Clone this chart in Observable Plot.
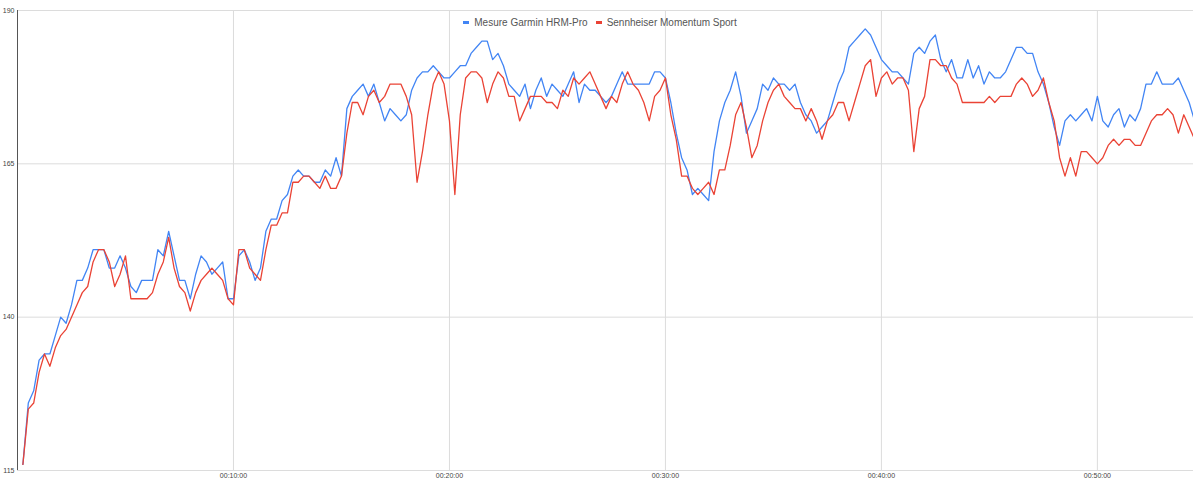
<!DOCTYPE html>
<html>
<head>
<meta charset="utf-8">
<script src="https://cdn.jsdelivr.net/npm/d3@7"></script>
<script src="https://cdn.jsdelivr.net/npm/@observablehq/plot@0.6"></script>
<style>
  html, body { margin: 0; padding: 0; background: #fff; }
  #wrap { position: relative; width: 1200px; height: 484px; }
  #legend { position: absolute; top: 15px; left: 0; width: 1200px; text-align: center;
            font-family: Arial, "Liberation Sans", sans-serif; font-size: 10px; color: #555; pointer-events: none; }
  #legend span.item { display: inline-flex; align-items: center; margin: 0 4px; }
  #legend span.sw { display: inline-block; width: 6px; height: 3px; margin-right: 5px; }
</style>
</head>
<body>
<div id="wrap"><div id="legend"></div></div>
<script>
const STEP = 15;

const seriesNames = ["Mesure Garmin HRM-Pro", "Sennheiser Momentum Sport"];
const seriesColors = ["#4285F4", "#EA4335"];

const garmin = [
116,126,128,133,134,134,137,140,139,142,146,146,148,151,151,151,148,148,150,148,
145,144,146,146,146,151,150,154,150,146,146,143,147,150,149,147,148,149,143,143,
150,151,149,146,148,154,156,156,159,160,163,164,163,163,162,162,164,163,166,163,
174,176,177,178,176,178,175,172,174,173,172,173,177,179,180,180,181,180,179,179,
180,181,181,183,184,185,185,182,183,181,178,177,176,178,174,177,179,176,178,177,
176,178,180,175,178,177,177,176,175,176,178,180,178,178,178,178,178,180,180,179,
175,170,166,164,160,161,160,159,167,172,175,177,180,176,170,172,174,178,177,179,
178,178,177,178,175,173,172,170,171,172,175,178,180,184,185,186,187,186,184,182,
181,180,180,179,178,183,184,183,185,186,182,180,182,179,179,182,179,181,178,180,
179,179,180,182,184,184,183,183,180,178,175,171,168,172,173,172,173,174,172,176,
172,171,173,174,171,173,172,174,178,178,180,178,178,178,179,177,175,172
];

const sennheiser = [
116,125,126,131,134,132,135,137,138,140,142,144,145,149,151,151,149,145,147,150,
143,143,143,143,144,147,149,153,148,145,144,141,144,146,147,148,147,146,143,142,
151,151,148,147,146,151,155,155,157,157,162,162,163,163,162,161,163,161,161,163,
170,175,175,173,176,177,175,176,178,178,178,176,173,162,167,173,178,180,178,172,
160,173,179,180,180,179,175,178,180,179,176,176,172,174,176,176,176,175,175,174,
177,176,179,178,179,180,178,176,174,176,175,178,180,178,177,175,172,176,177,179,
173,169,163,163,161,160,161,162,160,164,164,168,173,175,171,166,168,172,175,177,
178,176,175,174,174,172,174,172,169,172,173,175,175,172,175,178,181,182,176,179,
180,178,179,179,177,167,174,176,182,182,181,181,179,178,175,175,175,175,175,176,
175,176,176,176,178,179,178,176,177,179,175,172,166,163,166,163,167,167,166,165,
166,168,169,168,169,169,168,168,170,172,173,173,174,173,170,173,171,169
];

const yTicks = [115, 140, 165, 190];
const xTicks = [600, 1200, 1800, 2400, 3000];
const xDomain = [0, 3267];
const yDomain = [115, 190];

const pad = n => String(n).padStart(2, "0");
const hms = s => `${pad(Math.floor(s / 3600))}:${pad(Math.floor((s % 3600) / 60))}:${pad(s % 60)}`;

const rows = garmin.map((v, i) => ({ t: (i + 1) * STEP, garmin: v, senn: sennheiser[i] }));

const chart = Plot.plot({
  width: 1200,
  height: 484,
  marginLeft: 17,
  marginRight: 7,
  marginTop: 10,
  marginBottom: 14,
  style: { fontFamily: "Arial, 'Liberation Sans', sans-serif", fontSize: "7px", color: "#444", background: "#fff" },
  x: { domain: xDomain, ticks: xTicks, tickFormat: hms, tickSize: 0, tickPadding: 3, label: null },
  y: { domain: yDomain, ticks: yTicks, tickSize: 0, tickPadding: 3, label: null },
  marks: [
    Plot.gridX(xTicks, { stroke: "#dcdcdc", strokeOpacity: 1 }),
    Plot.gridY(yTicks, { stroke: "#dcdcdc", strokeOpacity: 1 }),
    Plot.line(rows, { x: "t", y: "garmin", stroke: seriesColors[0], strokeWidth: 1.3, clip: true }),
    Plot.line(rows, { x: "t", y: "senn", stroke: seriesColors[1], strokeWidth: 1.3, clip: true }),
    Plot.ruleX([0], { stroke: "#555", strokeWidth: 1 }),
    Plot.axisX({ ticks: xTicks, tickFormat: hms, tickSize: 0, tickPadding: 3, label: null, fill: "#444" }),
    Plot.axisY({ ticks: yTicks, tickSize: 0, tickPadding: 3, label: null, fill: "#444" })
  ]
});
document.getElementById("wrap").prepend(chart);

const legend = document.getElementById("legend");
seriesNames.forEach((name, i) => {
  const item = document.createElement("span");
  item.className = "item";
  const sw = document.createElement("span");
  sw.className = "sw";
  sw.style.background = seriesColors[i];
  item.appendChild(sw);
  item.appendChild(document.createTextNode(name));
  legend.appendChild(item);
});
</script>
</body>
</html>
